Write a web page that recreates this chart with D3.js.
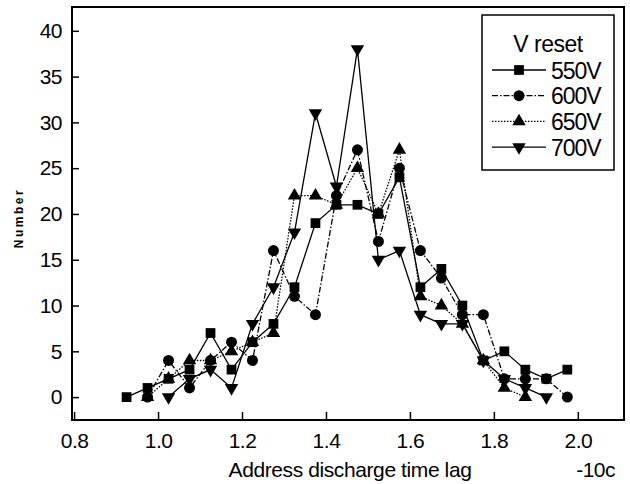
<!DOCTYPE html>
<meta charset="utf-8">
<style>
body { margin: 0; background: #fff; }
text { font-family: "Liberation Sans", Arial, sans-serif; fill: #000; }
.axis text { font-size: 21px; letter-spacing: -0.5px; }
.axis line, .axis path { stroke: #000; }
.series path.line { fill: none; stroke: #000; stroke-width: 1.3; }
</style>
<svg width="630" height="484"></svg>
<script src="https://d3js.org/d3.v7.min.js"></script>
<script>

// time lag bins (units of 1e-?c, as labelled)
var lag = [0.925, 0.975, 1.025, 1.075, 1.125, 1.175, 1.225, 1.275, 1.325, 1.375, 1.425,
           1.475, 1.525, 1.575, 1.625, 1.675, 1.725, 1.775, 1.825, 1.875, 1.925, 1.975];

var v550 = [0, 1, 2, 3, 7, 3, 6, 8, 12, 19, 21, 21, 20, 24, 12, 14, 10, 4, 5, 3, 2, 3];
var v600 = [null, 0, 4, 1, 4, 6, 4, 16, 11, 9, 22, 27, 17, 25, 16, 13, 9, 9, 2, 2, 2, 0];
var v650 = [null, 0, 2, 4, 4, 5, 6, 7, 22, 22, 21, 25, 20, 27, 11, 10, 8, 4, 1, 0, null, null];
var v700 = [null, null, 0, 2, 3, 1, 8, 12, 18, 31, 23, 38, 15, 16, 9, 8, 8, 4, 2, 1, 0, null];

var seriesNames = ["550V", "600V", "650V", "700V"];
var xTicks = [0.8, 1.0, 1.2, 1.4, 1.6, 1.8, 2.0];
var yTicks = [0, 5, 10, 15, 20, 25, 30, 35, 40];

var series = [
  {name: seriesNames[0], values: v550, symbol: d3.symbolSquare, size: 95, rotate: 0, dash: null},
  {name: seriesNames[1], values: v600, symbol: d3.symbolCircle, size: 95, rotate: 0, dash: "6,2,1.5,2"},
  {name: seriesNames[2], values: v650, symbol: d3.symbolTriangle, size: 78, rotate: 0, dash: "1.5,1.5"},
  {name: seriesNames[3], values: v700, symbol: d3.symbolTriangle, size: 78, rotate: 180, dash: null}
];

var svg = d3.select("svg"),
    margin = {top: 7, right: 6, bottom: 64, left: 72},
    width = +svg.attr("width") - margin.left - margin.right,
    height = +svg.attr("height") - margin.top - margin.bottom;

var x = d3.scaleLinear().domain([0.795, 2.11]).range([0, width]),
    y = d3.scaleLinear().domain([-2.5, 42.6]).range([height, 0]);

var g = svg.append("g")
    .attr("transform", "translate(" + margin.left + "," + margin.top + ")");

g.append("g")
    .attr("class", "axis axis--x")
    .attr("transform", "translate(0," + height + ")")
    .call(d3.axisBottom(x).tickValues(xTicks).tickFormat(d3.format(".1f")).tickSizeInner(-8).tickSizeOuter(0).tickPadding(13))
    .call(function(a) { a.select(".domain").remove(); });

g.append("g")
    .attr("class", "axis axis--y")
    .call(d3.axisLeft(y).tickValues(yTicks).tickSizeInner(-7).tickSizeOuter(0).tickPadding(10))
    .call(function(a) { a.select(".domain").remove(); });

g.selectAll(".axis line").attr("stroke-width", 1.5);

g.append("rect")
    .attr("width", width)
    .attr("height", height)
    .attr("fill", "none")
    .attr("stroke", "#000")
    .attr("stroke-width", 2);

var line = d3.line()
    .defined(function(d) { return d.v != null; })
    .x(function(d) { return x(d.t); })
    .y(function(d) { return y(d.v); });

var s = g.selectAll(".series")
  .data(series)
  .enter().append("g")
    .attr("class", "series");

s.append("path")
    .attr("class", "line")
    .attr("stroke-dasharray", function(d) { return d.dash; })
    .attr("d", function(d) {
      return line(lag.map(function(t, i) { return {t: t, v: d.values[i]}; }));
    });

s.each(function(d) {
  var pts = lag.map(function(t, i) { return {t: t, v: d.values[i]}; })
      .filter(function(p) { return p.v != null; });
  d3.select(this).selectAll(".pt")
    .data(pts)
    .enter().append("path")
      .attr("class", "pt")
      .attr("fill", "#000")
      .attr("d", d3.symbol().type(d.symbol).size(d.size))
      .attr("transform", function(p) {
        return "translate(" + x(p.t) + "," + y(p.v) + ") rotate(" + d.rotate + ")";
      });
});

// legend
var lg = svg.append("g").attr("transform", "translate(482,15)");
lg.append("rect")
    .attr("width", 132)
    .attr("height", 155)
    .attr("fill", "#fff")
    .attr("stroke", "#000")
    .attr("stroke-width", 1.5);
lg.append("text")
    .attr("x", 66)
    .attr("y", 37)
    .attr("text-anchor", "middle")
    .style("font-size", "23px")
    .style("letter-spacing", "-0.5px")
    .text("V reset");

var item = lg.selectAll(".item")
  .data(series)
  .enter().append("g")
    .attr("class", "item")
    .attr("transform", function(d, i) { return "translate(0," + (55 + i * 25.7) + ")"; });

item.append("line")
    .attr("x1", 10).attr("x2", 64)
    .attr("stroke", "#000")
    .attr("stroke-width", 1.3)
    .attr("stroke-dasharray", function(d) { return d.dash; });

item.append("path")
    .attr("fill", "#000")
    .attr("d", function(d) { return d3.symbol().type(d.symbol).size(d.size)(); })
    .attr("transform", function(d) { return "translate(37,0) rotate(" + d.rotate + ")"; });

item.append("text")
    .attr("x", 69)
    .attr("y", 8.5)
    .style("font-size", "23px")
    .style("letter-spacing", "-1px")
    .text(function(d) { return d.name; });

// axis titles
svg.append("text")
    .attr("x", 350)
    .attr("y", 477)
    .attr("text-anchor", "middle")
    .style("font-size", "21px")
    .style("letter-spacing", "-0.4px")
    .text("Address discharge time lag");

svg.append("text")
    .attr("x", 615)
    .attr("y", 477)
    .attr("text-anchor", "end")
    .style("font-size", "21px")
    .style("letter-spacing", "-0.5px")
    .text("-10c");

svg.append("text")
    .attr("transform", "translate(23,218) rotate(-90)")
    .attr("text-anchor", "middle")
    .style("font-size", "12px")
    .style("font-weight", "bold")
    .style("letter-spacing", "2.5px")
    .text("Number");

</script>
